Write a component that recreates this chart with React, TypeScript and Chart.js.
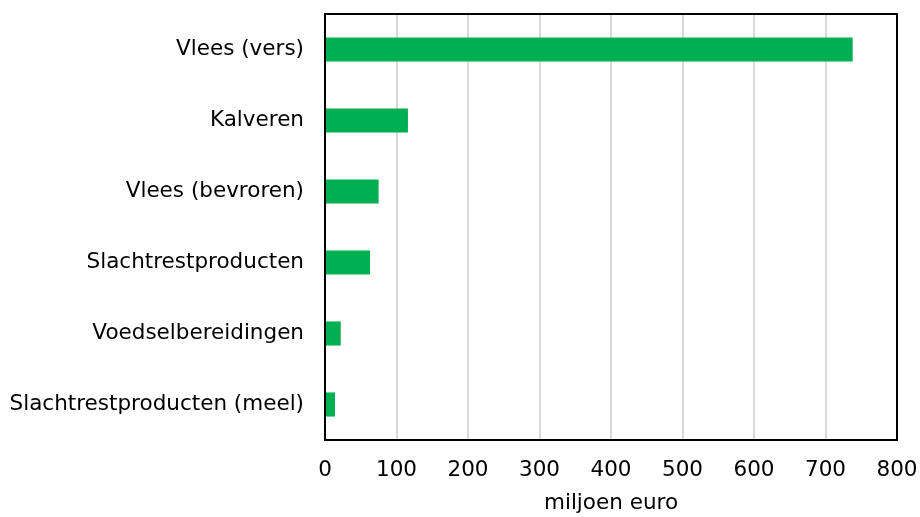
import React, { useEffect, useRef } from "react";
import { Chart, registerables } from "chart.js";

Chart.register(...registerables);

const categories = [
  "Vlees (vers)",
  "Kalveren",
  "Vlees (bevroren)",
  "Slachtrestproducten",
  "Voedselbereidingen",
  "Slachtrestproducten (meel)",
];
const values = [738, 116, 75, 63, 22, 14];
const xTitle = "miljoen euro";

const FONT = "'DejaVu Sans', Verdana, sans-serif";
const FS = 21.5;

const frame = {
  id: "frame",
  afterDraw(chart: any) {
    const { ctx, chartArea } = chart;
    ctx.save();
    ctx.strokeStyle = "#000";
    ctx.lineWidth = 2;
    ctx.strokeRect(chartArea.left, chartArea.top, chartArea.right - chartArea.left, chartArea.bottom - chartArea.top);
    ctx.restore();
  },
};

export default function App() {
  const ref = useRef<HTMLCanvasElement>(null);
  useEffect(() => {
    const chart = new Chart(ref.current!, {
      type: "bar",
      data: {
        labels: categories,
        datasets: [
          {
            data: values,
            backgroundColor: "#00b050",
            barPercentage: 0.34,
            categoryPercentage: 1,
          },
        ],
      },
      options: {
        indexAxis: "y",
        animation: false,
        responsive: false,
        maintainAspectRatio: false,
        layout: { padding: { top: 14, right: 23, left: 0, bottom: 0 } },
        plugins: { legend: { display: false }, tooltip: { enabled: false } },
        scales: {
          x: {
            min: 0,
            max: 800,
            ticks: { stepSize: 100, color: "#000", font: { family: FONT, size: FS }, padding: 18, maxRotation: 0 },
            grid: { color: "#d9d9d9", lineWidth: 2, drawTicks: false },
            border: { display: true, color: "#000", width: 2 },
            title: { display: true, text: xTitle, color: "#000", font: { family: FONT, size: FS }, padding: { top: 0, bottom: 1 } },
            afterFit: (s: any) => {
              s.height = 77;
              s.paddingLeft = 0;
              s.paddingRight = 0;
            },
          },
          y: {
            ticks: { color: "#000", font: { family: FONT, size: FS }, padding: 21 },
            grid: { display: false, drawTicks: false },
            border: { display: true, color: "#000", width: 2 },
            afterFit: (s: any) => {
              s.width = 325;
              s.paddingTop = 0;
              s.paddingBottom = 0;
            },
          },
        },
      },
      plugins: [frame],
    });
    return () => chart.destroy();
  }, []);
  return (
    <div style={{ position: "absolute", left: 0, top: 0, width: 920, height: 517, background: "#fff" }}>
      <canvas ref={ref} width={920} height={517} />
    </div>
  );
}
